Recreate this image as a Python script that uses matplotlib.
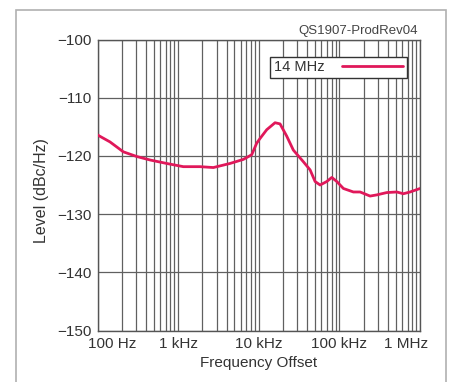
import matplotlib
matplotlib.use("Agg")
import matplotlib.pyplot as plt
from matplotlib.ticker import LogLocator, NullFormatter
import matplotlib.transforms as mtransforms
from matplotlib.patches import Rectangle

freq_hz = [100, 143, 209, 306, 448, 722, 1160, 1870, 2735, 4400, 6440, 8180,
           9440, 10380, 12560, 15920, 18370, 22220, 26850, 35730, 43330, 50000,
           57680, 69820, 80540, 92900, 112200, 149300, 180700, 240400, 291000,
           387000, 515000, 622000, 753000, 1000000]
level_dbc = [-116.4, -117.6, -119.3, -120.1, -120.7, -121.3, -121.85, -121.85,
             -122.0, -121.3, -120.6, -119.8, -117.8, -117.0, -115.5, -114.3,
             -114.5, -116.6, -119.0, -121.0, -122.4, -124.4, -125.0, -124.4,
             -123.7, -124.4, -125.6, -126.2, -126.2, -126.9, -126.7, -126.3,
             -126.2, -126.5, -126.2, -125.6]
xtick_vals = [1e2, 1e3, 1e4, 1e5, 1e6]
xtick_labels = ["100 Hz", "1 kHz", "10 kHz", "100 kHz", "1 MHz"]
ytick_vals = [-100, -110, -120, -130, -140, -150]
series_name = "14 MHz"
chart_id = "QS1907-ProdRev04"

FONT = "Liberation Sans"
plt.rcParams['font.family'] = [FONT, 'DejaVu Sans']
plt.rcParams['axes.unicode_minus'] = True

fig = plt.figure(figsize=(4.53, 3.82), dpi=100)
fig.patch.set_facecolor("white")

# outer frame
fig.patches.append(Rectangle((15.5/453, -0.01), (446-15.5)/453, 1 - 9.5/382 + 0.01,
                             transform=fig.transFigure, fill=False,
                             edgecolor="#b0b0b0", linewidth=1.2))

ax = fig.add_axes([97.5/453, 1 - 330.5/382, 322.5/453, 291/382])
ax.set_xscale("log")
ax.set_xlim(1e2, 1e6)
ax.set_ylim(-150, -100)

line_color = "#e0185a"
ax.plot(freq_hz, level_dbc, color=line_color, linewidth=2.0, solid_capstyle="round",
        solid_joinstyle="round", zorder=3)

ax.xaxis.set_major_locator(LogLocator(base=10, numticks=10))
ax.xaxis.set_minor_locator(LogLocator(base=10, subs=range(2, 10), numticks=20))
ax.xaxis.set_minor_formatter(NullFormatter())
ax.set_xticks(xtick_vals)
ax.set_xticklabels(xtick_labels)
ax.set_yticks(ytick_vals)
ax.set_yticklabels(["\u2212%d" % abs(v) for v in ytick_vals])

grid_color = "#606060"
ax.grid(True, which="major", axis="both", color=grid_color, linewidth=0.9)
ax.grid(True, which="minor", axis="x", color=grid_color, linewidth=0.9)
ax.tick_params(which="both", length=0)
ax.tick_params(axis="x", pad=5, labelsize=11, colors="#333333")
ax.tick_params(axis="y", pad=4, labelsize=11, colors="#333333")
for s in ax.spines.values():
    s.set_color("#555555")
    s.set_linewidth(1.0)

labels = ax.get_xticklabels()
labels[0].set_transform(labels[0].get_transform() +
                        mtransforms.ScaledTranslation(15/100, 0, fig.dpi_scale_trans))
labels[-1].set_transform(labels[-1].get_transform() +
                         mtransforms.ScaledTranslation(-14/100, 0, fig.dpi_scale_trans))

ax.set_xlabel("Frequency Offset", fontsize=11, color="#333333", labelpad=3)
ax.set_ylabel("Level (dBc/Hz)", fontsize=11.5, color="#333333")
ax.yaxis.set_label_coords((49 - 97.5) / 322.5, 1 - (191 - 39.5) / 291)

fig.text(418/453, 1 - 31/382, chart_id, ha="right", va="center", fontsize=9.5,
         color="#444444")

leg = ax.legend([series_name], loc="upper right", bbox_to_anchor=(407/453, 1 - 56.5/382),
                bbox_transform=fig.transFigure, frameon=True, fancybox=False,
                fontsize=10.5, handlelength=4.2, handletextpad=1.2,
                borderpad=0.25, markerfirst=False, borderaxespad=0)
leg.get_frame().set_edgecolor("#333333")
leg.get_frame().set_linewidth(1.0)
leg.get_frame().set_alpha(1)
for t in leg.get_texts():
    t.set_color("#333333")

fig.savefig("out.png", dpi=100, facecolor="white")
